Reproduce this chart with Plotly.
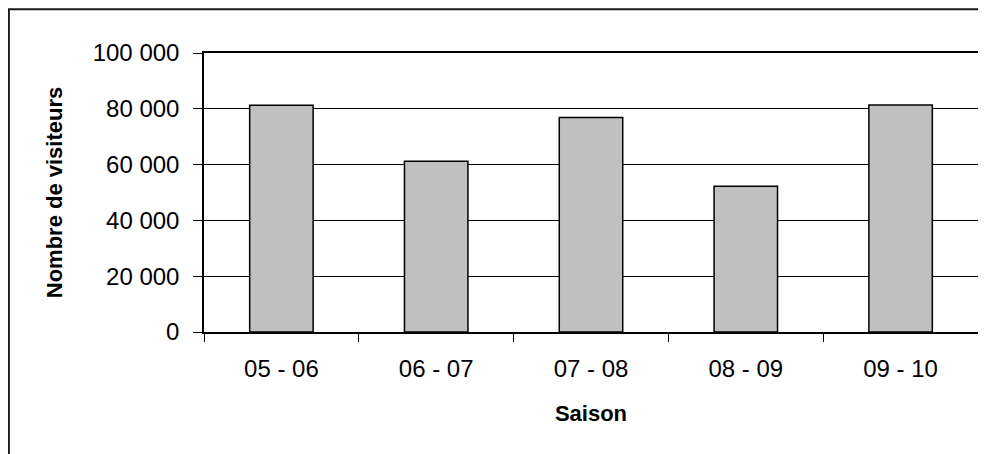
import plotly.graph_objects as go

seasons = ["05 - 06", "06 - 07", "07 - 08", "08 - 09", "09 - 10"]
visitors = [81300, 61200, 76900, 52200, 81400]
y_ticks = [0, 20000, 40000, 60000, 80000, 100000]
y_tick_labels = ["0", "20 000", "40 000", "60 000", "80 000", "100 000"]

FONT = "Liberation Sans, Arial, sans-serif"

fig = go.Figure(
    go.Bar(
        x=seasons,
        y=visitors,
        width=0.41,
        marker=dict(color="#C0C0C0", line=dict(color="black", width=1.5)),
    )
)

# page body has an 8px margin, so the figure is sized to fit the 986x454 window
fig.update_layout(
    width=978,
    height=446,
    paper_bgcolor="white",
    plot_bgcolor="white",
    margin=dict(l=196, r=6, t=45, b=122),
    showlegend=False,
    font=dict(family=FONT, color="black", size=24),
    shapes=[
        dict(type="rect", xref="paper", yref="paper",
             x0=-0.2521, x1=1.05, y0=-1.3, y1=1.157,
             line=dict(color="#1a1a1a", width=2), layer="below"),
    ],
)

fig.update_xaxes(
    type="category",
    tickson="boundaries",
    ticks="outside",
    ticklen=8,
    tickcolor="black",
    tickwidth=1,
    ticklabelstandoff=14,
    showline=True,
    linecolor="black",
    linewidth=1.5,
    mirror=True,
    showgrid=False,
    tickfont=dict(size=24),
    title=dict(text="<b>Saison</b>", font=dict(size=22), standoff=25),
)

fig.update_yaxes(
    range=[0, 100000],
    tickvals=y_ticks,
    ticktext=y_tick_labels,
    ticks="outside",
    ticklen=9,
    tickcolor="black",
    tickwidth=1,
    ticklabelstandoff=9,
    showline=True,
    linecolor="black",
    linewidth=1.5,
    mirror=True,
    showgrid=True,
    gridcolor="black",
    gridwidth=1,
    zeroline=False,
    tickfont=dict(size=24),
    title=dict(text="<b>Nombre de visiteurs</b>", font=dict(size=22), standoff=24),
)

fig.write_html("out.html")
